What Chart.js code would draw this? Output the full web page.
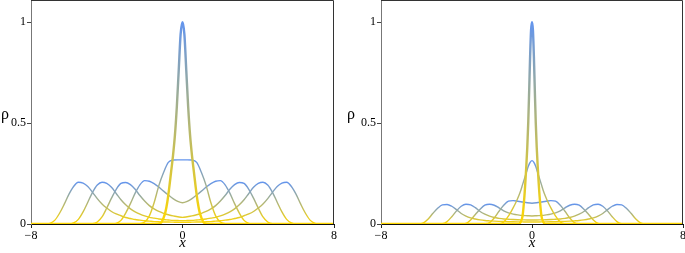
<!DOCTYPE html>
<html><head><meta charset="utf-8">
<script src="https://cdn.jsdelivr.net/npm/chart.js@4.4.0/dist/chart.umd.min.js"></script>
<style>
html,body{margin:0;padding:0;background:#fff;width:685px;height:253px;overflow:hidden}
.p{position:absolute;top:0}
#warm{position:absolute;left:0;top:0;color:rgba(0,0,0,0);font-family:'Liberation Serif';font-size:12px;pointer-events:none}
#warm i{font-style:italic}
</style></head><body>
<span id="warm">0.5 −8 ρ <i>x</i></span>
<div class="p" style="left:0;width:345px;height:253px"><canvas id="c1" width="345" height="253"></canvas></div>
<div class="p" style="left:345px;width:340px;height:253px"><canvas id="c2" width="340" height="253"></canvas></div>
<script>
// shared x grid for the spreading curves
const xGrid = [-8,-7.75,-7.5,-7.25,-7,-6.75,-6.5,-6.25,-6,-5.75,-5.5,-5.25,-5,-4.75,-4.5,-4.25,-4,-3.75,-3.5,-3.25,-3,-2.75,-2.5,-2.25,-2,-1.75,-1.5,-1.25,-1,-0.75,-0.5,-0.25,0,0.25,0.5,0.75,1,1.25,1.5,1.75,2,2.25,2.5,2.75,3,3.25,3.5,3.75,4,4.25,4.5,4.75,5,5.25,5.5,5.75,6,6.25,6.5,6.75,7,7.25,7.5,7.75,8];

// ---- left panel ----
const leftPeakX = [-8,-1.3,-1.2,-1.1,-1,-0.9,-0.8,-0.7,-0.6,-0.5,-0.4,-0.3,-0.2,-0.1,0,0.1,0.2,0.3,0.4,0.5,0.6,0.7,0.8,0.9,1,1.1,1.2,1.3,8];
const leftPeakY = [0,0,0.003,0.01,0.03,0.06,0.11,0.18,0.26,0.34,0.44,0.58,0.76,0.94,1,0.94,0.76,0.58,0.44,0.34,0.26,0.18,0.11,0.06,0.03,0.01,0.003,0,0];
const leftPlateau = [0,0,0,0,0,0,0,0,0,0,0,0,0,0,0,0,0,0,0,0,0,0,0,0.002,0.010,0.040,0.105,0.190,0.255,0.305,0.317,0.318,0.318,0.318,0.317,0.305,0.255,0.190,0.105,0.040,0.010,0.002,0,0,0,0,0,0,0,0,0,0,0,0,0,0,0,0,0,0,0,0,0,0,0];
const leftBump1 = [0,0,0,0,0,0,0,0,0,0,0,0,0,0,0,0,0,0,0.003,0.018,0.054,0.101,0.153,0.194,0.215,0.212,0.200,0.183,0.163,0.144,0.126,0.112,0.105,0.112,0.126,0.144,0.163,0.183,0.200,0.212,0.215,0.194,0.153,0.101,0.054,0.018,0.003,0,0,0,0,0,0,0,0,0,0,0,0,0,0,0,0,0,0];
const leftBump2 = [0,0,0,0,0,0,0,0,0,0,0,0,0,0.001,0.010,0.035,0.079,0.128,0.172,0.201,0.206,0.195,0.172,0.141,0.114,0.091,0.075,0.062,0.053,0.046,0.040,0.036,0.033,0.036,0.040,0.046,0.053,0.062,0.075,0.091,0.114,0.141,0.172,0.195,0.206,0.201,0.172,0.128,0.079,0.035,0.010,0.001,0,0,0,0,0,0,0,0,0,0,0,0,0];
const leftBump3 = [0,0,0,0,0,0,0,0,0,0.005,0.023,0.060,0.108,0.157,0.193,0.207,0.201,0.182,0.151,0.120,0.095,0.075,0.060,0.049,0.040,0.033,0.029,0.025,0.022,0.020,0.018,0.017,0.016,0.017,0.018,0.020,0.022,0.025,0.029,0.033,0.040,0.049,0.060,0.075,0.095,0.120,0.151,0.182,0.201,0.207,0.193,0.157,0.108,0.060,0.023,0.005,0,0,0,0,0,0,0,0,0];
const leftBump4 = [0,0,0,0,0.003,0.018,0.052,0.097,0.147,0.186,0.207,0.203,0.186,0.157,0.126,0.099,0.079,0.062,0.050,0.041,0.032,0.027,0.022,0.019,0.016,0.014,0.012,0.011,0.010,0.0097,0.0091,0.0085,0.0083,0.0085,0.0091,0.0097,0.010,0.011,0.012,0.014,0.016,0.019,0.022,0.027,0.032,0.041,0.050,0.062,0.079,0.099,0.126,0.157,0.186,0.203,0.207,0.186,0.147,0.097,0.052,0.018,0.003,0,0,0,0];

// ---- right panel ----
const rightPeakX = [-8,-0.7,-0.6,-0.5,-0.4,-0.3,-0.25,-0.2,-0.15,-0.1,-0.05,0,0.05,0.1,0.15,0.2,0.25,0.3,0.4,0.5,0.6,0.7,8];
const rightPeakY = [0,0,0.01,0.04,0.14,0.29,0.38,0.5,0.66,0.83,0.96,1,0.96,0.83,0.66,0.5,0.38,0.29,0.14,0.04,0.01,0,0];
const rightMidX = [-8,-1.8,-1.7,-1.6,-1.5,-1.4,-1.3,-1.2,-1.1,-1,-0.9,-0.8,-0.7,-0.6,-0.5,-0.4,-0.3,-0.2,-0.1,0,0.1,0.2,0.3,0.4,0.5,0.6,0.7,0.8,0.9,1,1.1,1.2,1.3,1.4,1.5,1.6,1.7,1.8,8];
const rightMidY = [0,0,0.001,0.004,0.01,0.02,0.033,0.047,0.063,0.08,0.098,0.118,0.14,0.165,0.195,0.225,0.255,0.285,0.305,0.314,0.305,0.285,0.255,0.225,0.195,0.165,0.14,0.118,0.098,0.08,0.063,0.047,0.033,0.02,0.01,0.004,0.001,0,0];
const rightBump1 = [0,0,0,0,0,0,0,0,0,0,0,0,0,0,0,0,0,0,0,0,0,0,0.001,0.007,0.030,0.063,0.093,0.113,0.116,0.113,0.109,0.105,0.103,0.105,0.109,0.113,0.116,0.113,0.093,0.063,0.030,0.007,0.001,0,0,0,0,0,0,0,0,0,0,0,0,0,0,0,0,0,0,0,0,0,0];
const rightBump2 = [0,0,0,0,0,0,0,0,0,0,0,0,0,0,0,0,0,0,0.003,0.020,0.047,0.073,0.093,0.098,0.093,0.080,0.065,0.055,0.049,0.045,0.042,0.041,0.040,0.041,0.042,0.045,0.049,0.055,0.065,0.080,0.093,0.098,0.093,0.073,0.047,0.020,0.003,0,0,0,0,0,0,0,0,0,0,0,0,0,0,0,0,0,0];
const rightBump3 = [0,0,0,0,0,0,0,0,0,0,0,0,0,0.001,0.012,0.036,0.065,0.088,0.098,0.095,0.081,0.062,0.049,0.039,0.032,0.028,0.025,0.0235,0.022,0.021,0.0205,0.020,0.020,0.020,0.0205,0.021,0.022,0.0235,0.025,0.028,0.032,0.039,0.049,0.062,0.081,0.095,0.098,0.088,0.065,0.036,0.012,0.001,0,0,0,0,0,0,0,0,0,0,0,0,0];
const rightBump4 = [0,0,0,0,0,0,0,0,0,0.006,0.025,0.053,0.078,0.095,0.097,0.088,0.071,0.052,0.039,0.030,0.0245,0.0205,0.0176,0.0157,0.0142,0.013,0.0122,0.0115,0.011,0.0106,0.0103,0.010,0.0098,0.010,0.0103,0.0106,0.011,0.0115,0.0122,0.013,0.0142,0.0157,0.0176,0.0205,0.0245,0.030,0.039,0.052,0.071,0.088,0.097,0.095,0.078,0.053,0.025,0.006,0,0,0,0,0,0,0,0,0];

// ticks
const xTickValues = [-8, 0, 8];
const xTickLabels = ['\u22128', '0', '8'];
const yTickValues = [0, 0.5, 1];
const yTickLabels = ['0', '0.5', '1'];
const xTitle = 'x';
const yTitle = '\u03c1';

const BLUE = 'rgb(100,149,237)';
const GOLD = 'rgb(255,215,0)';
const SERIF = "'Liberation Serif'";

// force the serif face to be resolved before the canvases draw text
void document.getElementById('warm').offsetWidth;

function pts(xs, ys){ return xs.map((x,i)=>({x:x, y:ys[i]})); }
function gradFor(ys){
  const top = Math.max.apply(null, ys);
  return function(c){
    const ch = c.chart;
    if(!ch.chartArea || !ch.scales.y) return BLUE;
    const y = ch.scales.y;
    const t = y.getPixelForValue(top), b = y.getPixelForValue(0);
    const g = ch.ctx.createLinearGradient(0, t, 0, b);
    g.addColorStop(0, BLUE);
    g.addColorStop(1, GOLD);
    return g;
  };
}
function ds(xs, ys, w){
  return {data: pts(xs, ys), borderColor: gradFor(ys), borderWidth: w, pointRadius: 0,
          cubicInterpolationMode: 'monotone', fill: false};
}

const framePlugin = {
  id: 'frame',
  afterDraw(ch){
    const a = ch.chartArea, ctx = ch.ctx;
    ctx.save();
    ctx.lineWidth = 1;
    ctx.strokeStyle = '#333';
    ctx.beginPath();
    ctx.moveTo(a.left, a.top + 0.5); ctx.lineTo(a.right - 0.5, a.top + 0.5); ctx.lineTo(a.right - 0.5, a.bottom);
    ctx.stroke();
    const o = ch.options.plugins.frame;
    ctx.fillStyle = '#000';
    ctx.font = '16px ' + SERIF;
    ctx.textAlign = 'center';
    ctx.textBaseline = 'middle';
    ctx.fillText(yTitle, o.rhoX, o.rhoY);
    ctx.restore();
  }
};

function makeChart(id, datasets, yWidth, padRight, rhoX){
  return new Chart(document.getElementById(id), {
    type: 'line',
    data: {datasets: datasets},
    plugins: [framePlugin],
    options: {
      responsive: false, animation: false, devicePixelRatio: 1,
      font: {family: SERIF},
      layout: {padding: {left: 0, right: padRight, top: 0, bottom: 0}},
      plugins: {legend: {display: false}, tooltip: {enabled: false}, frame: {rhoX: rhoX, rhoY: 115}},
      scales: {
        x: {
          type: 'linear', min: -8, max: 8,
          afterBuildTicks: s => { s.ticks = xTickValues.map(v => ({value: v})); },
          afterFit: s => { s.height = 29; s.paddingLeft = 0; s.paddingRight = 0; },
          ticks: {callback: v => xTickLabels[xTickValues.indexOf(v)], color: '#000', padding: 1,
                  font: {family: SERIF, size: 12}, maxRotation: 0, autoSkip: false},
          grid: {display: true, drawOnChartArea: false, drawTicks: true, tickLength: 4, color: '#222'},
          border: {display: true, color: '#111', width: 1},
          title: {display: true, text: xTitle, color: '#000', padding: {top: 0, bottom: 1},
                  font: {family: SERIF, size: 15, style: 'italic'}}
        },
        y: {
          type: 'linear', min: 0, max: 1.11,
          afterBuildTicks: s => { s.ticks = yTickValues.map(v => ({value: v})); },
          afterFit: s => { s.width = yWidth; s.paddingTop = 0; s.paddingBottom = 0; },
          ticks: {callback: v => yTickLabels[yTickValues.indexOf(v)], color: '#000', padding: 1,
                  font: {family: SERIF, size: 12}},
          grid: {display: true, drawOnChartArea: false, drawTicks: true, tickLength: 4, color: '#444'},
          border: {display: true, color: '#777', width: 1}
        }
      }
    }
  });
}

makeChart('c1', [
  ds(leftPeakX, leftPeakY, 2.4),
  ds(xGrid, leftPlateau, 1.4),
  ds(xGrid, leftBump1, 1.4),
  ds(xGrid, leftBump2, 1.4),
  ds(xGrid, leftBump3, 1.4),
  ds(xGrid, leftBump4, 1.4)
], 31, 11, 5);
makeChart('c2', [
  ds(rightPeakX, rightPeakY, 2.4),
  ds(rightMidX, rightMidY, 1.4),
  ds(xGrid, rightBump1, 1.4),
  ds(xGrid, rightBump2, 1.4),
  ds(xGrid, rightBump3, 1.4),
  ds(xGrid, rightBump4, 1.4)
], 36, 2, 6);
</script>
</body></html>
